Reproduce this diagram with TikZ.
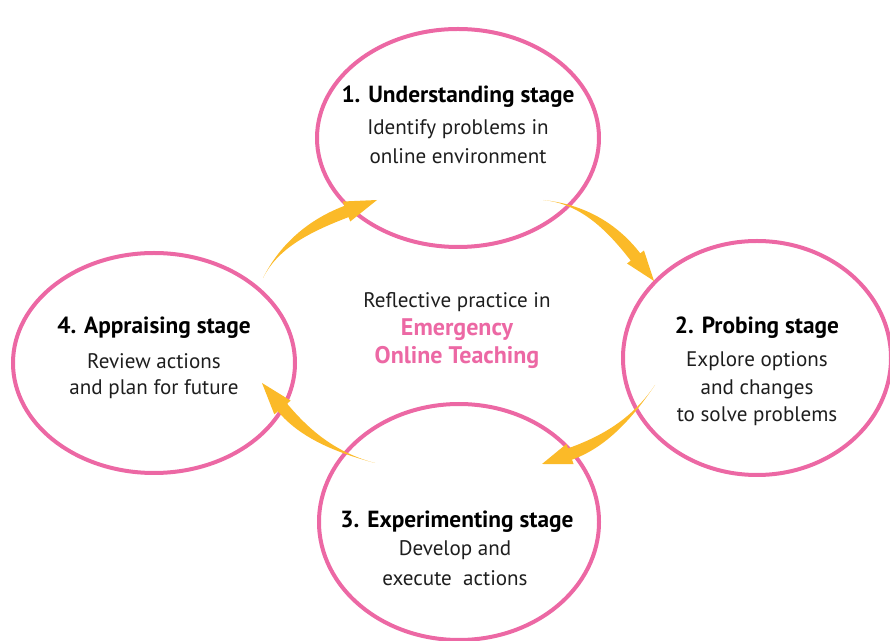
\documentclass[tikz,border=0pt]{standalone}
\usepackage{fontspec}
\setmainfont{PT Sans}
\usetikzlibrary{calc}
\definecolor{pinkc}{RGB}{236,104,164}
\definecolor{arrowc}{RGB}{251,186,40}
\definecolor{textc}{RGB}{30,30,30}
\newcommand\taperarrow[4]{%
  \coordinate (s1) at ($(#3)!4.5pt!90:(#4)$);
  \coordinate (s2) at ($(#3)!4.5pt!-90:(#4)$);
  \coordinate (k1) at ($(#3)!8pt!90:(#4)$);
  \coordinate (k2) at ($(#3)!8pt!-90:(#4)$);
  \coordinate (q0) at ($(#1)+0.667*(#2)-0.667*(#1)$);
  \coordinate (q1) at ($(s1)+0.667*(#2)-0.667*(#3)$);
  \coordinate (q2) at ($(s2)+0.667*(#2)-0.667*(#3)$);
  \fill[arrowc] (#1) .. controls (q0) and (q1) .. (s1)
    -- (k1) -- (#4) -- (k2) -- (s2) .. controls (q2) and (q0) .. (#1) -- cycle;}
\begin{document}
\begin{tikzpicture}[x=0.75pt,y=-0.75pt,
  ttl/.style={font=\fontsize{17.5}{20}\selectfont\bfseries,text=black,anchor=center,inner sep=0pt},
  txt/.style={font=\fontsize{15.8}{19}\selectfont,text=textc,anchor=center,inner sep=0pt},
  ctr/.style={font=\fontsize{18}{20}\selectfont\bfseries,text=pinkc,anchor=center,inner sep=0pt}]
\useasboundingbox (0,0) rectangle (890,641);
% ellipses
\draw[draw=pinkc,line width=3pt] (458,138) ellipse [x radius=141,y radius=109];
\draw[draw=pinkc,line width=3pt] (757,358) ellipse [x radius=134,y radius=117];
\draw[draw=pinkc,line width=3pt] (459,522) ellipse [x radius=140,y radius=118];
\draw[draw=pinkc,line width=3pt] (154,363) ellipse [x radius=141,y radius=110];
% texts
\node[ttl] (t1) at (458,97) {1. Understanding stage};
\node[txt] (d1a) at (458,129) {Identify problems in};
\node[txt] (d1b) at (458,156) {online environment};
\node[ttl] (t2) at (757,328) {2. Probing stage};
\node[txt] (d2a) at (757,361) {Explore options};
\node[txt] (d2b) at (757,389) {and changes};
\node[txt] (d2c) at (757,416) {to solve problems};
\node[ttl] (t3) at (457,522) {3. Experimenting stage};
\node[txt] (d3a) at (455,550) {Develop and};
\node[txt] (d3b) at (455,578) {execute\ \ actions};
\node[ttl] (t4) at (154,328) {4. Appraising stage};
\node[txt] (d4a) at (154,361) {Review actions};
\node[txt] (d4b) at (154,389) {and plan for future};
\node[txt] (c1) at (457,302) {Reflective practice in};
\node[ctr] (c2) at (457,330) {Emergency};
\node[ctr] (c3) at (457,357) {Online Teaching};
% arrows
\coordinate (aT) at (263,278); \coordinate (aC) at (284.5,235); \coordinate (aH) at (346.5,211.5); \coordinate (aP) at (377,200);
\coordinate (bT) at (543,200); \coordinate (bC) at (595.6,205.3); \coordinate (bH) at (635.5,257); \coordinate (bP) at (654,281);
\coordinate (cT) at (655,385); \coordinate (cC) at (620.7,435.9); \coordinate (cH) at (570,454); \coordinate (cP) at (542,464);
\coordinate (dT) at (375,463); \coordinate (dC) at (315.7,447.2); \coordinate (dH) at (282.5,407.5); \coordinate (dP) at (262,383);
\taperarrow{aT}{aC}{aH}{aP}
\taperarrow{bT}{bC}{bH}{bP}
\taperarrow{cT}{cC}{cH}{cP}
\taperarrow{dT}{dC}{dH}{dP}
\end{tikzpicture}
\end{document}
